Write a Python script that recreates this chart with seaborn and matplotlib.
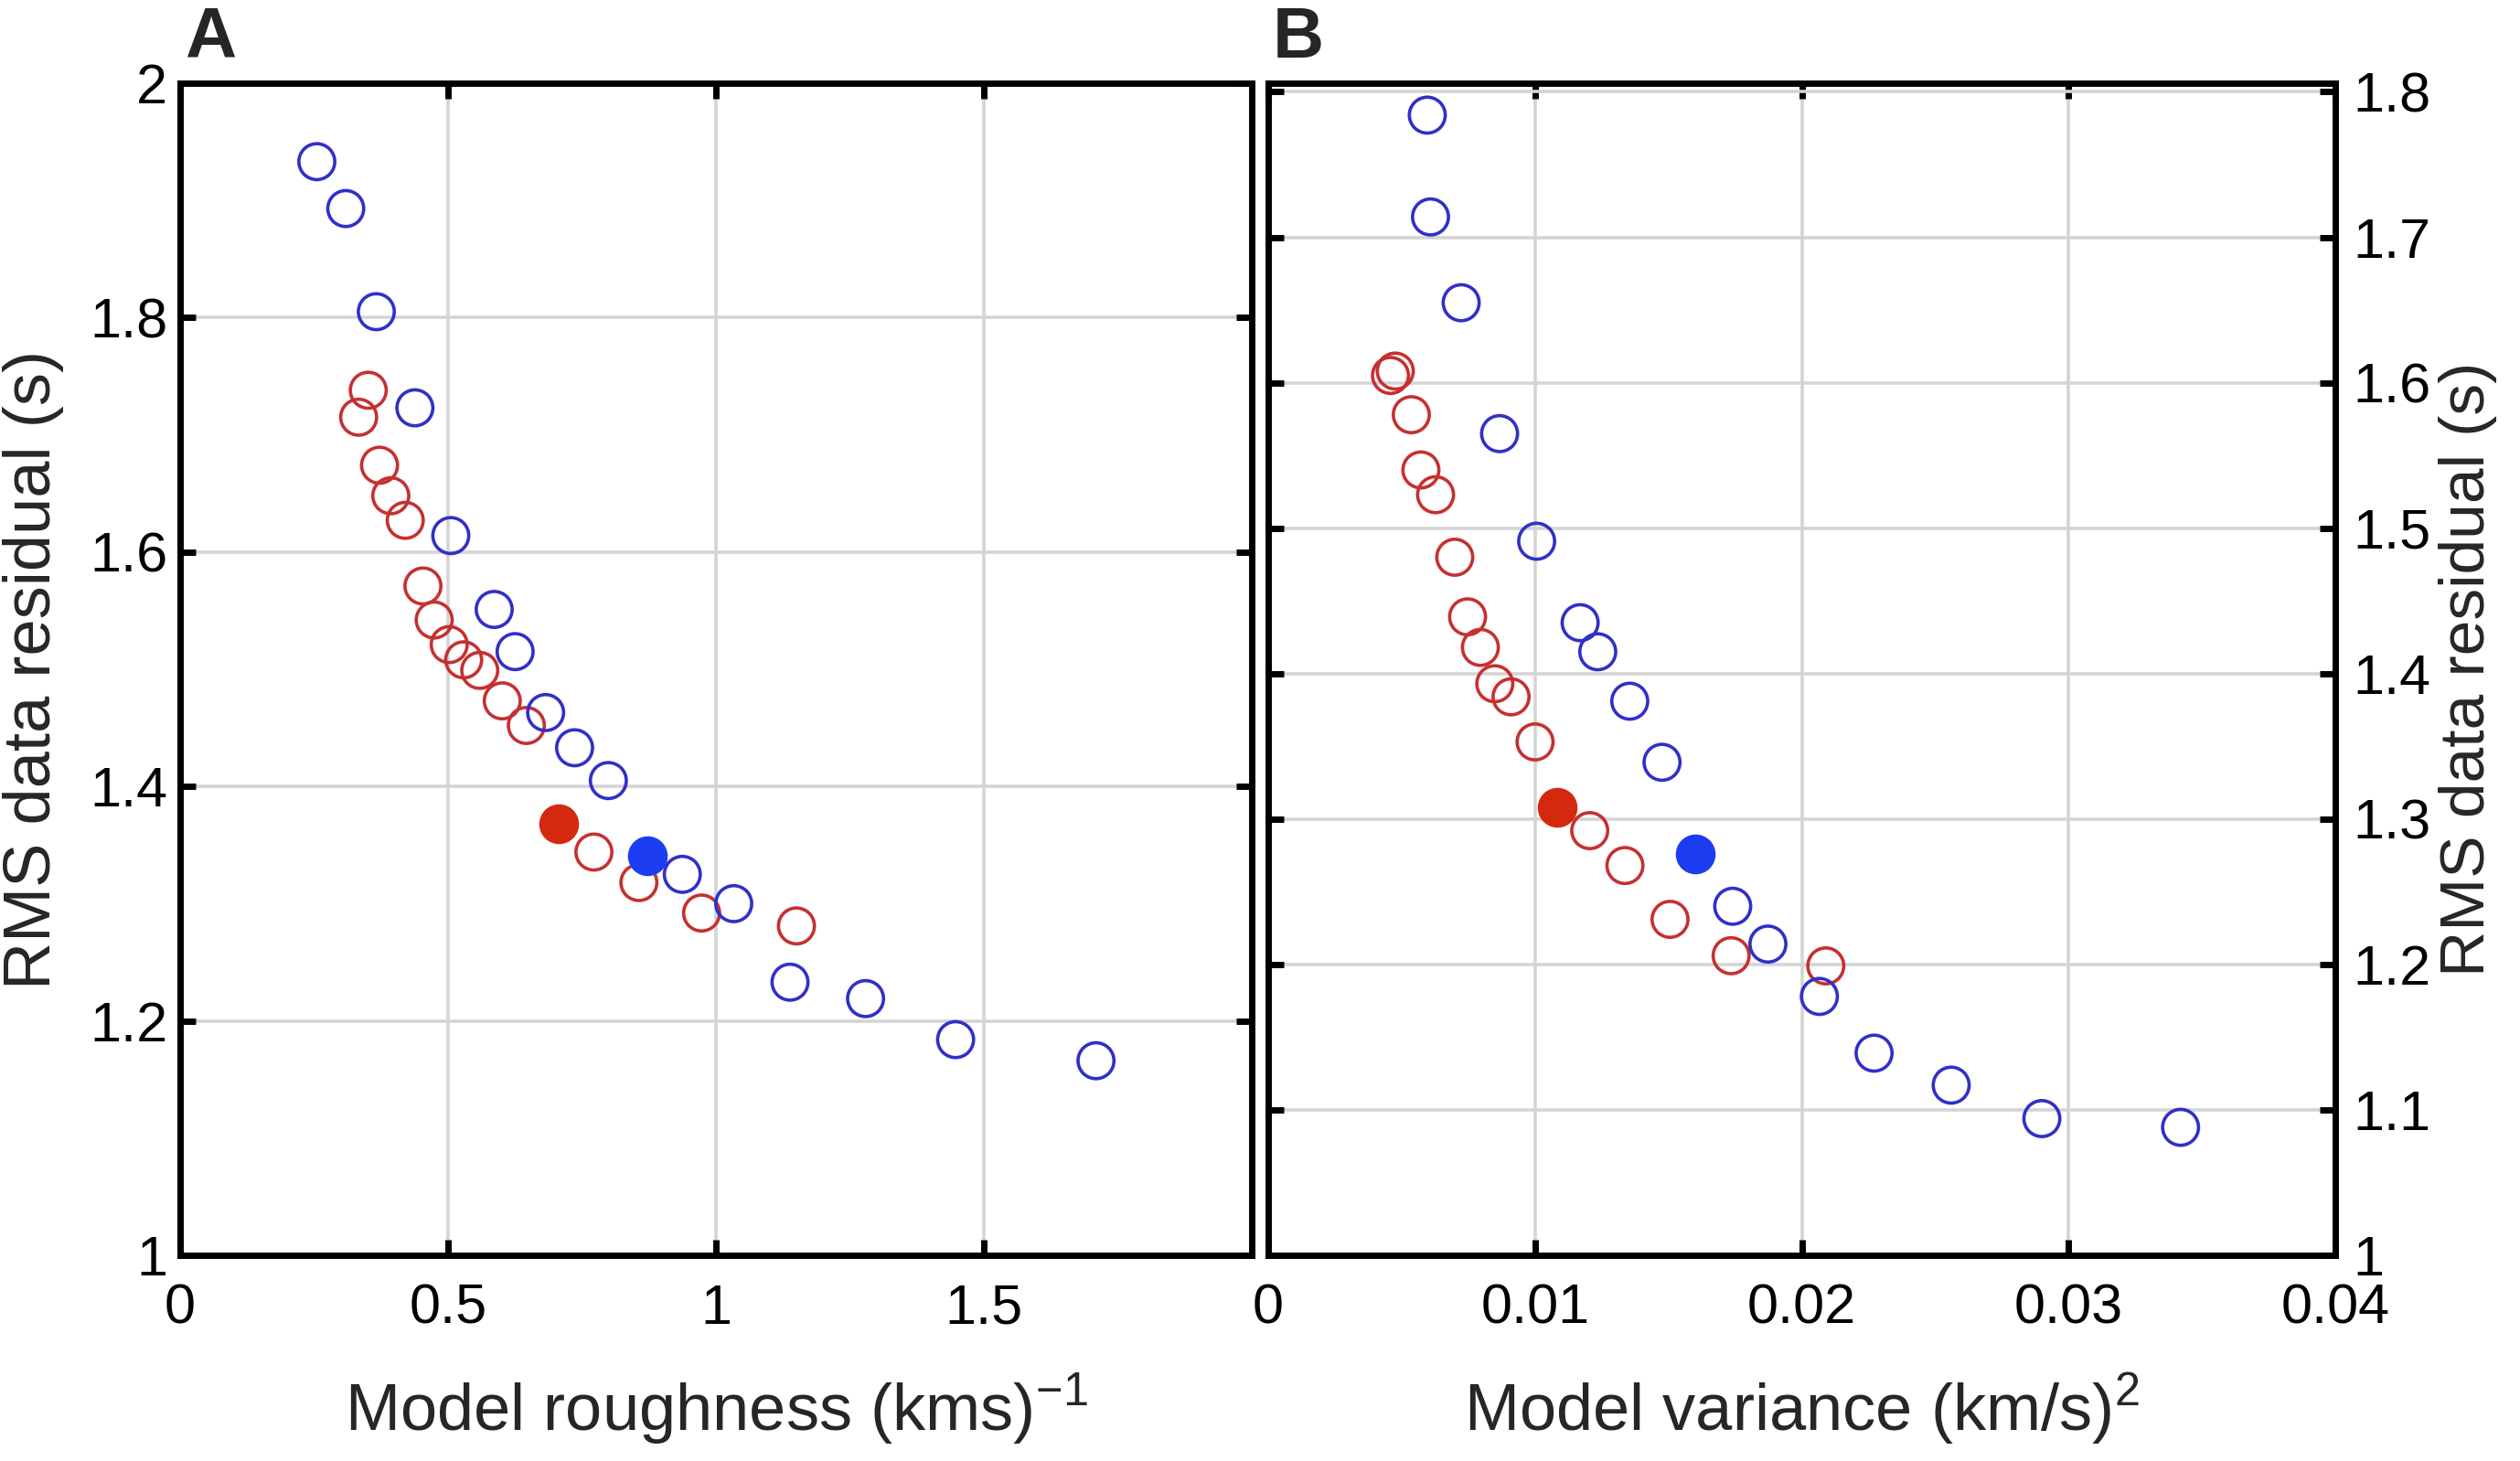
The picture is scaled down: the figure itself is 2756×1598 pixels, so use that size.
import numpy as np
import pandas as pd
import matplotlib
matplotlib.use("Agg")
import matplotlib.pyplot as plt
import seaborn as sns

# ---------------- data ----------------
# Panel A: model roughness vs RMS residual
a_blue_x = [0.255, 0.309, 0.366, 0.438, 0.505, 0.586, 0.625, 0.682, 0.736, 0.799,
            0.937, 1.033, 1.138, 1.279, 1.447, 1.709]
a_blue_y = [1.933, 1.893, 1.805, 1.723, 1.614, 1.551, 1.515, 1.463, 1.433, 1.405,
            1.325, 1.300, 1.233, 1.219, 1.184, 1.166]
a_blue_sel_x = [0.871]
a_blue_sel_y = [1.341]
a_red_x = [0.351, 0.333, 0.372, 0.393, 0.420, 0.453, 0.474, 0.502, 0.529, 0.559,
           0.601, 0.646, 0.772, 0.856, 0.973, 1.150]
a_red_y = [1.738, 1.715, 1.674, 1.648, 1.627, 1.571, 1.542, 1.521, 1.508, 1.499,
           1.473, 1.452, 1.344, 1.318, 1.292, 1.281]
a_red_sel_x = [0.706]
a_red_sel_y = [1.368]

# Panel B: model variance vs RMS residual
b_blue_x = [0.00596, 0.00608, 0.00723, 0.00867, 0.01006, 0.01169, 0.01235, 0.01355,
            0.01476, 0.01741, 0.01873, 0.02066, 0.02271, 0.02560, 0.02900, 0.03420]
b_blue_y = [1.784, 1.714, 1.655, 1.565, 1.491, 1.435, 1.415, 1.381,
            1.339, 1.240, 1.214, 1.178, 1.139, 1.117, 1.094, 1.088]
b_blue_sel_x = [0.01602]
b_blue_sel_y = [1.276]
b_red_x = [0.00476, 0.00458, 0.00536, 0.00572, 0.00627, 0.00699, 0.00747, 0.00795,
           0.00849, 0.00910, 0.01000, 0.01205, 0.01337, 0.01506, 0.01735, 0.02090]
b_red_y = [1.608, 1.605, 1.578, 1.540, 1.523, 1.480, 1.439, 1.418,
           1.393, 1.384, 1.353, 1.292, 1.268, 1.231, 1.206, 1.199]
b_red_sel_x = [0.01084]
b_red_sel_y = [1.308]

# ticks / labels
a_xticks = [0, 0.5, 1, 1.5]
a_xticklabels = ["0", "0.5", "1", "1.5"]
a_yticks = [1, 1.2, 1.4, 1.6, 1.8, 2]
a_yticklabels = ["1", "1.2", "1.4", "1.6", "1.8", "2"]
b_xticks = [0, 0.01, 0.02, 0.03, 0.04]
b_xticklabels = ["0", "0.01", "0.02", "0.03", "0.04"]
b_yticks = [1, 1.1, 1.2, 1.3, 1.4, 1.5, 1.6, 1.7, 1.8]
b_yticklabels = ["1", "1.1", "1.2", "1.3", "1.4", "1.5", "1.6", "1.7", "1.8"]

a_xlabel = r"Model roughness (kms)$^{\mathregular{-1}}$"
b_xlabel = r"Model variance (km/s)$^{\mathregular{2}}$"
ylabel = "RMS data residual (s)"

# ---------------- style ----------------
sns.set_theme(style="white")
plt.rcParams["font.family"] = ["Liberation Sans", "DejaVu Sans"]
plt.rcParams["mathtext.fontset"] = "custom"
plt.rcParams["mathtext.rm"] = "Liberation Sans"

OPEN_RED = "#c63030"
OPEN_BLUE = "#3030c8"
FILL_RED = "#d4290e"
FILL_BLUE = "#1c3cf2"

fig = plt.figure(figsize=(13.78, 7.99), dpi=200)
axA = fig.add_axes([0.0715, 0.1408, 0.4253, 0.8023])
axB = fig.add_axes([0.5033, 0.1408, 0.4234, 0.8023])


def draw(ax, bx, by, rx, ry, bsx, bsy, rsx, rsy):
    df_b = pd.DataFrame({"x": bx, "y": by})
    df_r = pd.DataFrame({"x": rx, "y": ry})
    df_bs = pd.DataFrame({"x": bsx, "y": bsy})
    df_rs = pd.DataFrame({"x": rsx, "y": rsy})
    sns.scatterplot(data=df_r, x="x", y="y", ax=ax, s=200, marker="o",
                    facecolor="none", edgecolor=OPEN_RED, linewidth=1.3, zorder=3)
    sns.scatterplot(data=df_b, x="x", y="y", ax=ax, s=200, marker="o",
                    facecolor="none", edgecolor=OPEN_BLUE, linewidth=1.3, zorder=3)
    sns.scatterplot(data=df_rs, x="x", y="y", ax=ax, s=230, marker="o",
                    facecolor=FILL_RED, edgecolor=FILL_RED, linewidth=0.5, zorder=4)
    sns.scatterplot(data=df_bs, x="x", y="y", ax=ax, s=230, marker="o",
                    facecolor=FILL_BLUE, edgecolor=FILL_BLUE, linewidth=0.5, zorder=4)


draw(axA, a_blue_x, a_blue_y, a_red_x, a_red_y,
     a_blue_sel_x, a_blue_sel_y, a_red_sel_x, a_red_sel_y)
draw(axB, b_blue_x, b_blue_y, b_red_x, b_red_y,
     b_blue_sel_x, b_blue_sel_y, b_red_sel_x, b_red_sel_y)

for ax in (axA, axB):
    ax.grid(True, color="#d4d4d4", linewidth=1.3)
    ax.set_axisbelow(True)
    for sp in ax.spines.values():
        sp.set_visible(True)
        sp.set_color("black")
        sp.set_linewidth(2.5)
    ax.tick_params(direction="in", length=6, width=2.5, colors="black",
                   labelsize=22, top=True, bottom=True, left=True, right=True)
    ax.tick_params(axis="x", pad=11)

axA.set_xlim(0, 2)
axA.set_ylim(1, 2)
axA.set_xticks(a_xticks)
axA.set_xticklabels(a_xticklabels)
axA.set_yticks(a_yticks)
axA.set_yticklabels(a_yticklabels)
axA.tick_params(axis="y", pad=5, labelleft=True, labelright=False)
axA.set_xlabel(a_xlabel, fontsize=26, labelpad=14)
axA.set_ylabel(ylabel, fontsize=26, labelpad=10)

axB.set_xlim(0, 0.04)
axB.set_ylim(1, 1.806)
axB.set_xticks(b_xticks)
axB.set_xticklabels(b_xticklabels)
axB.set_yticks(b_yticks)
axB.set_yticklabels(b_yticklabels)
axB.tick_params(axis="y", pad=7, labelleft=False, labelright=True)
axB.yaxis.set_label_position("right")
axB.set_xlabel(b_xlabel, fontsize=26, labelpad=14)
axB.set_ylabel(ylabel, fontsize=25, labelpad=3)

fig.text(0.0733, 0.9606, "A", fontsize=28, fontweight="bold", ha="left", va="baseline")
fig.text(0.5050, 0.9606, "B", fontsize=28, fontweight="bold", ha="left", va="baseline")

fig.savefig("out.png", dpi=200, facecolor="white")
